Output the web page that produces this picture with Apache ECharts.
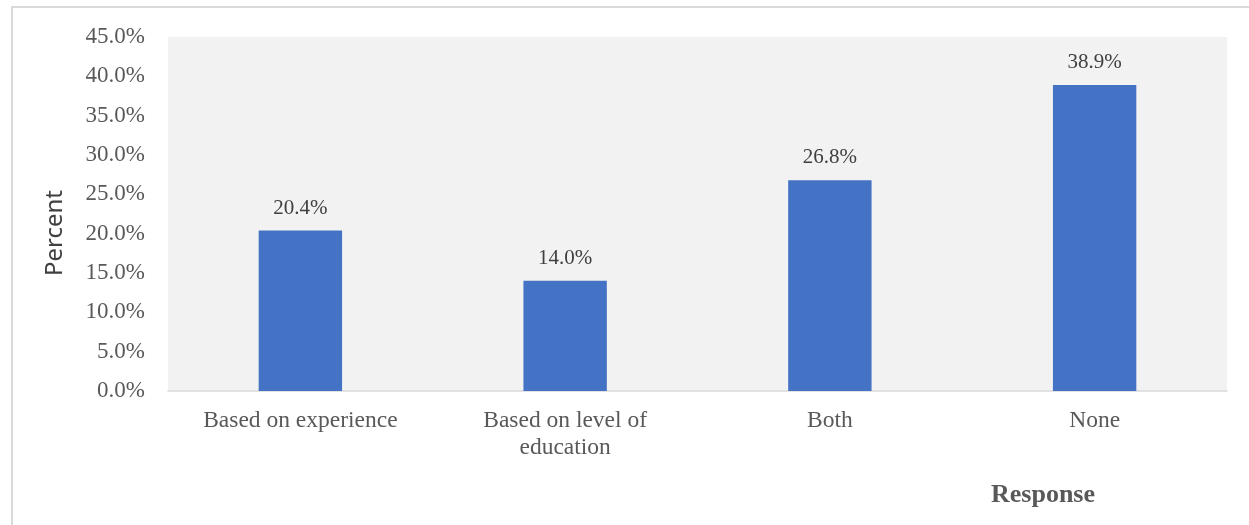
<!DOCTYPE html>
<html><head><meta charset="utf-8">
<script src="https://cdn.jsdelivr.net/npm/echarts@6/dist/echarts.min.js"></script>
<style>html,body{margin:0;padding:0;background:#fff;}#c{width:1249px;height:525px;}</style>
</head><body><div id="c"></div>
<script>
const categories = ["Based on experience", "Based on level of\neducation", "Both", "None"];
const values = [20.4, 14.0, 26.8, 38.9];
const yTicks = [0, 5, 10, 15, 20, 25, 30, 35, 40, 45];
const xTitle = "Response";
const yTitle = "Percent";

const chart = echarts.init(document.getElementById('c'), null, {renderer: 'canvas'});
const serif = '"Liberation Serif", "Times New Roman", serif';
chart.setOption({
  animation: false,
  graphic: [
    {type: 'rect', shape: {x: 12, y: 7, width: 1260, height: 540}, style: {fill: 'none', stroke: '#d9d9d9', lineWidth: 2}, z: -10},
    {type: 'text', x: 55, y: 233, rotation: Math.PI / 2,
     style: {text: yTitle, fill: '#404040', font: '24px "Noto Sans", "Open Sans", sans-serif', align: 'center', verticalAlign: 'middle'}},
    {type: 'text', x: 1043, y: 495,
     style: {text: xTitle, fill: '#595959', font: 'bold 26px "Liberation Serif", "Times New Roman", serif', align: 'center', verticalAlign: 'middle'}}
  ],
  grid: {left: 168, right: 22, top: 37, bottom: 134, containLabel: false, outerBoundsMode: 'none', show: true, backgroundColor: '#f2f2f2', borderWidth: 0},
  xAxis: {
    type: 'category', data: categories,
    axisLine: {lineStyle: {color: '#d9d9d9', width: 1.5}},
    axisTick: {show: false},
    axisLabel: {color: '#595959', fontFamily: serif, fontSize: 23.5, margin: 16, lineHeight: 27, interval: 0}
  },
  yAxis: {
    type: 'value', min: 0, max: 45, interval: 5,
    axisLine: {show: false}, axisTick: {show: false},
    splitLine: {show: false},
    axisLabel: {color: '#595959', fontFamily: serif, fontSize: 23, margin: 23, formatter: v => yTicks.includes(v) ? v.toFixed(1) + '%' : ''}
  },
  series: [{
    type: 'bar', data: values, barWidth: '31.5%',
    itemStyle: {color: '#4472c4'},
    label: {show: true, position: 'top', distance: 12, color: '#404040', fontFamily: serif, fontSize: 21, formatter: p => p.value.toFixed(1) + '%'}
  }]
});
</script></body></html>
